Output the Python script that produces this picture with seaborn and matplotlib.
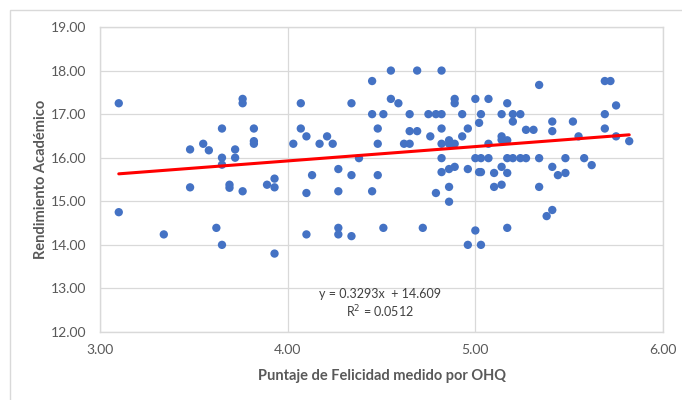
import numpy as np
import pandas as pd
import matplotlib
matplotlib.use("Agg")
import matplotlib.pyplot as plt
import seaborn as sns
from matplotlib.patches import Rectangle
from matplotlib.ticker import FormatStrFormatter

# puntaje OHQ (x) vs rendimiento academico (y)
felicidad = [
    3.10, 3.76, 3.76, 3.65, 3.82, 3.55, 3.48, 3.58, 3.72, 3.82, 3.82, 3.65, 3.65, 3.72, 3.93,
    3.48, 3.69, 3.69, 3.76, 3.89, 3.93, 3.10, 3.34, 3.62, 3.65, 3.93,
    4.55, 4.69, 4.82, 4.45, 4.07, 4.34, 4.55, 4.59, 4.89, 4.89, 5.00, 4.45, 4.51, 4.65,
    4.75, 4.79, 4.82, 4.93, 5.02, 4.07, 4.10, 4.21, 4.03, 4.17, 4.24, 4.48, 4.48, 4.62,
    4.65, 4.65, 4.69, 4.76, 4.82, 4.82, 4.86, 4.86, 4.89, 4.93, 4.96, 4.38, 4.82, 5.00,
    4.27, 4.13, 4.34, 4.48, 4.82, 4.86, 4.89, 4.96, 5.02,
    4.10, 4.27, 4.45, 4.79, 4.86, 4.86, 4.10, 4.27, 4.27, 4.34, 4.51, 4.72, 5.00, 4.96, 5.03,
    5.34, 5.69, 5.72, 5.07, 5.17, 5.75, 5.03, 5.14, 5.20, 5.24, 5.69, 5.20, 5.41, 5.52,
    5.27, 5.31, 5.41, 5.69, 5.14, 5.14, 5.17, 5.07, 5.55, 5.75, 5.82, 5.03, 5.07, 5.17,
    5.20, 5.24, 5.27, 5.34, 5.48, 5.58, 5.14, 5.41, 5.62, 5.03, 5.10, 5.17, 5.44, 5.48,
    5.10, 5.14, 5.34, 5.38, 5.41, 5.17,
]
rendimiento = [
    17.25, 17.35, 17.25, 16.67, 16.67, 16.32, 16.19, 16.17, 16.19, 16.38, 16.32, 16.00, 15.84, 16.00, 15.52,
    15.32, 15.38, 15.31, 15.23, 15.38, 15.32, 14.75, 14.24, 14.39, 14.00, 13.80,
    18.00, 18.00, 18.00, 17.76, 17.25, 17.25, 17.35, 17.25, 17.35, 17.25, 17.35, 17.00, 17.00, 17.00,
    17.00, 17.00, 17.00, 17.00, 16.80, 16.67, 16.49, 16.49, 16.32, 16.32, 16.32, 16.67, 16.32, 16.32,
    16.32, 16.61, 16.61, 16.49, 16.67, 16.32, 16.40, 16.32, 16.32, 16.49, 16.67, 15.99, 15.99, 15.99,
    15.74, 15.60, 15.60, 15.60, 15.67, 15.74, 15.79, 15.74, 15.67,
    15.19, 15.23, 15.23, 15.19, 15.33, 14.99, 14.24, 14.39, 14.24, 14.20, 14.39, 14.39, 14.33, 14.00, 14.00,
    17.67, 17.76, 17.76, 17.35, 17.25, 17.20, 17.00, 17.00, 17.00, 17.00, 17.00, 16.83, 16.83, 16.83,
    16.64, 16.64, 16.61, 16.67, 16.49, 16.41, 16.40, 16.32, 16.49, 16.49, 16.38, 15.99, 15.99, 15.99,
    15.99, 15.99, 15.99, 15.99, 15.99, 15.99, 15.79, 15.79, 15.83, 15.67, 15.65, 15.65, 15.60, 15.65,
    15.33, 15.38, 15.33, 14.66, 14.80, 14.39,
]

# linear trendline as printed on the chart
pendiente = 0.3293
intercepto = 14.609
ecuacion = "y = 0.3293x  + 14.609"
r2_texto = "R$^2$ = 0.0512"

df = pd.DataFrame({"x": felicidad, "y": rendimiento})

sns.set_style("white")
plt.rcParams['font.family'] = ['Lato', 'DejaVu Sans']

fig = plt.figure(figsize=(6.82, 4.0), dpi=100)
ax = fig.add_axes([100 / 682, 1 - 332 / 400, 563 / 682, 305 / 400])

# outer chart frame
fig.patches.append(Rectangle((10 / 682, -0.05), 1.0, 1.05 - 10 / 400, transform=fig.transFigure,
                             fill=False, edgecolor="#d9d9d9", linewidth=1.0))

sns.scatterplot(data=df, x="x", y="y", ax=ax, color="#4472C4", s=36, edgecolor="none", zorder=3)

xs = np.array([df["x"].min(), df["x"].max()])
ax.plot(xs, pendiente * xs + intercepto, color="#ff0000", linewidth=2.2, zorder=4)

ax.set_xlim(3, 6)
ax.set_ylim(12, 19)
ax.set_xticks([3, 4, 5, 6])
ax.set_yticks(np.arange(12, 20, 1))
ax.xaxis.set_major_formatter(FormatStrFormatter('%.2f'))
ax.yaxis.set_major_formatter(FormatStrFormatter('%.2f'))
ax.tick_params(axis='both', length=0, labelsize=10, labelcolor="#595959")
ax.tick_params(axis='x', pad=9)
ax.tick_params(axis='y', pad=10)
ax.grid(True, color="#d9d9d9", linewidth=0.9)
ax.set_axisbelow(True)
for sp in ax.spines.values():
    sp.set_color("#d9d9d9")
    sp.set_linewidth(1.0)

ax.set_xlabel("Puntaje de Felicidad medido por OHQ", fontsize=10.5, fontweight="bold",
              color="#595959", labelpad=9)
ax.set_ylabel("Rendimiento Académico", fontsize=10.5, fontweight="bold",
              color="#595959", labelpad=2)

ax.text(4.49, 12.87, ecuacion, ha="center", va="center", fontsize=9, color="#404040")
ax.text(4.49, 12.46, r2_texto, ha="center", va="center", fontsize=9, color="#404040")

fig.savefig("out.png", dpi=100)
